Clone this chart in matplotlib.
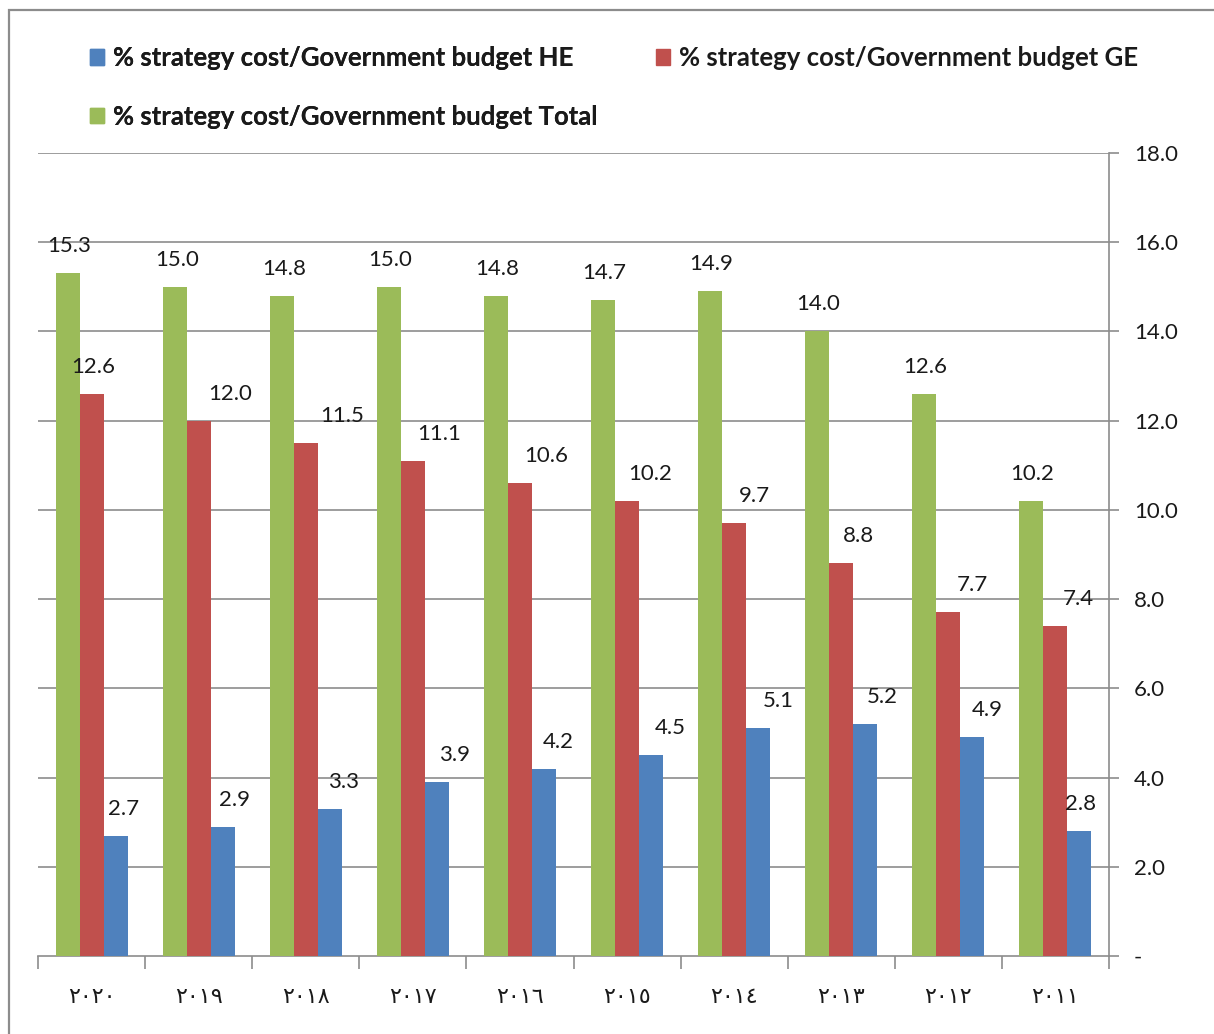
import matplotlib
matplotlib.use("Agg")
import matplotlib.pyplot as plt
from matplotlib.patches import Patch, Rectangle
import numpy as np

years = ["٢٠٢٠", "٢٠١٩", "٢٠١٨", "٢٠١٧", "٢٠١٦", "٢٠١٥", "٢٠١٤", "٢٠١٣", "٢٠١٢", "٢٠١١"]
total = [15.3, 15.0, 14.8, 15.0, 14.8, 14.7, 14.9, 14.0, 12.6, 10.2]
ge = [12.6, 12.0, 11.5, 11.1, 10.6, 10.2, 9.7, 8.8, 7.7, 7.4]
he = [2.7, 2.9, 3.3, 3.9, 4.2, 4.5, 5.1, 5.2, 4.9, 2.8]
labels = ["% strategy cost/Government budget HE",
          "% strategy cost/Government budget GE",
          "% strategy cost/Government budget Total"]
yticks = [0, 2, 4, 6, 8, 10, 12, 14, 16, 18]
ytick_labels = ["-", "2.0", "4.0", "6.0", "8.0", "10.0", "12.0", "14.0", "16.0", "18.0"]

# label horizontal nudges (pixels), as placed in the original chart
dx_total = [2, 2, 2, 1, 1, 1, 1, 1, 1, 1]
dx_ge = [2, 31, 36, 26, 26, 23, 20, 17, 24, 23]
dx_he = [8, 12, 14, 18, 14, 19, 20, 17, 15, 1]

C_HE = "#4F81BD"
C_GE = "#C0504D"
C_TOT = "#9BBB59"
GRID = "#8C8C8C"

W, H = 1214, 1034
fig = plt.figure(figsize=(W / 100, H / 100), dpi=100)
fig.patch.set_facecolor("white")

# outer chart border
fig.add_artist(Rectangle((9 / W, -0.05), 1.1, 1 - 10 / H + 0.05, transform=fig.transFigure,
                         fill=False, edgecolor="#8C8C8C", lw=1.6))

ax = fig.add_axes([38 / W, 1 - 956 / H, (1109 - 38) / W, (956 - 153) / H])
x = np.arange(len(years))
bw = 0.224
ax.bar(x - bw, total, bw, color=C_TOT, zorder=3)
ax.bar(x, ge, bw, color=C_GE, zorder=3)
ax.bar(x + bw, he, bw, color=C_HE, zorder=3)

ax.set_xlim(-0.5, len(years) - 0.5)
ax.set_ylim(0, 18)

lab_font = dict(family=["Lato", "DejaVu Sans"], size=16, color="#1a1a1a")
for xs, vals, dxs in ((x - bw, total, dx_total), (x, ge, dx_ge), (x + bw, he, dx_he)):
    for xi, v, d in zip(xs, vals, dxs):
        ax.annotate(f"{v:.1f}", (xi, v), xytext=(d, 27), textcoords="offset pixels",
                    ha="center", va="center", zorder=5, **lab_font)

# y axis on right
ax.yaxis.tick_right()
ax.set_yticks(yticks)
ax.set_yticklabels(ytick_labels, fontfamily="Lato", fontsize=16, color="#1a1a1a")
ax.tick_params(axis="y", length=7, width=1.2, color=GRID, pad=11)
for yv in yticks[1:]:
    ax.axhline(yv, color=GRID, lw=1.2, zorder=1)

# x axis: labels at group centers, tick marks at boundaries
ax.set_xticks(x)
ax.set_xticklabels(years, fontfamily="DejaVu Sans", fontsize=16, color="#1a1a1a")
ax.tick_params(axis="x", which="major", length=0, pad=22)
ax.set_xticks(np.arange(-0.5, len(years)), minor=True)
ax.tick_params(axis="x", which="minor", length=9, width=1.2, color=GRID)

for s in ["top", "left"]:
    ax.spines[s].set_visible(False)
ax.spines["right"].set_color(GRID)
ax.spines["right"].set_linewidth(1.2)
ax.spines["bottom"].set_color(GRID)
ax.spines["bottom"].set_linewidth(1.2)

# legend
leg_kw = dict(frameon=False, prop=dict(family="Lato", weight="bold", size=18.5),
              handlelength=0.55, handleheight=0.55, handletextpad=0.35,
              labelspacing=1.35, borderpad=0, borderaxespad=0, loc="upper left")
h_he = Patch(color=C_HE)
h_ge = Patch(color=C_GE)
h_tot = Patch(color=C_TOT)
leg1 = fig.legend([h_he, h_tot], [labels[0], labels[2]],
                  bbox_to_anchor=(90 / W, 1 - 46 / H), **leg_kw)
fig.add_artist(leg1)
leg2 = fig.legend([h_ge], [labels[1]], bbox_to_anchor=(656 / W, 1 - 46 / H), **leg_kw)
for t in list(leg1.get_texts()) + list(leg2.get_texts()):
    t.set_color("#1a1a1a")

fig.savefig("out.png", dpi=100, facecolor="white")
